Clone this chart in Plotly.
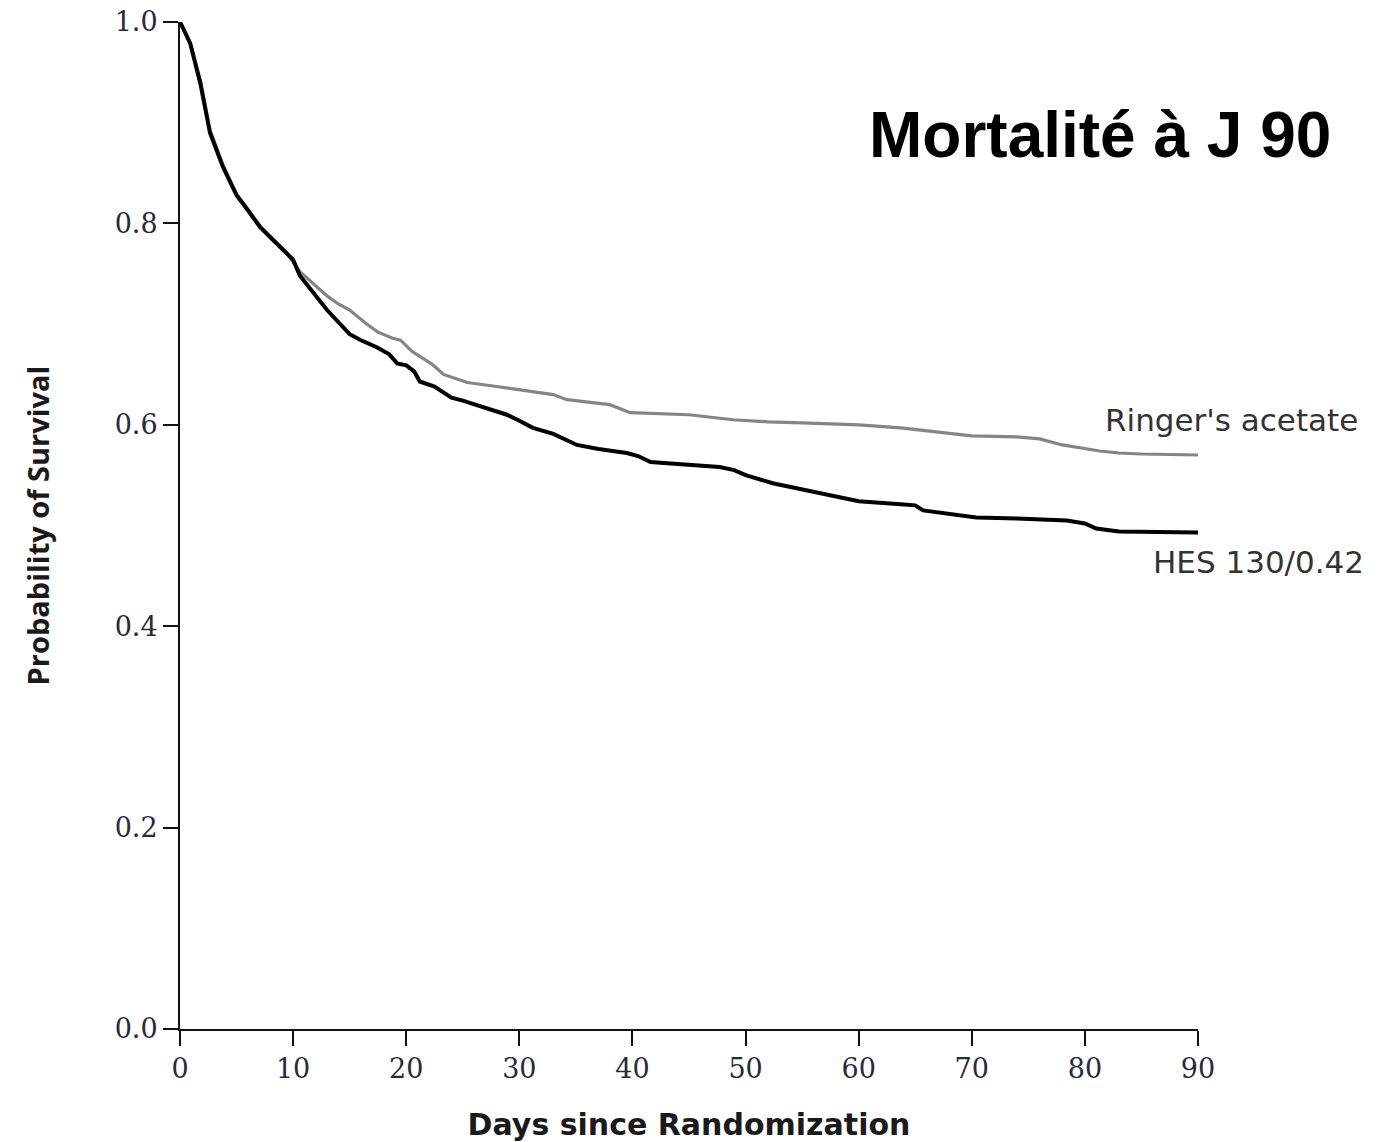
import plotly.graph_objects as go

# HES 130/0.42 (black curve)
hes_days = [0, 0.9, 1.8, 2.65, 3.8, 5, 6, 7.1, 8, 9.4, 10, 10.6, 11.5, 13, 15, 16, 17.4, 18.5,
            19.2, 20, 20.7, 21.2, 22.5, 24, 25, 26.8, 28.9, 30, 31.2, 33, 35.1, 37, 39.5, 40.5,
            41.6, 44, 47.7, 49, 50, 52.4, 55, 58.9, 60, 63.7, 65, 65.7, 68, 70.4, 74, 78.4, 80,
            81, 83, 90]
hes_surv = [1.0, 0.979, 0.939, 0.890, 0.856, 0.828, 0.813, 0.796, 0.786, 0.770, 0.764, 0.748,
            0.735, 0.714, 0.690, 0.684, 0.677, 0.670, 0.661, 0.659, 0.653, 0.643, 0.638, 0.627,
            0.624, 0.618, 0.610, 0.604, 0.597, 0.591, 0.580, 0.576, 0.572, 0.569, 0.563, 0.561,
            0.558, 0.555, 0.550, 0.542, 0.536, 0.526, 0.524, 0.521, 0.520, 0.515, 0.512, 0.508,
            0.507, 0.505, 0.502, 0.497, 0.494, 0.493]

# Ringer's acetate (gray curve)
ra_days = [0, 0.9, 1.8, 2.65, 3.8, 5, 6, 7.1, 8, 9.4, 10.6, 12, 13, 14, 15, 16.5, 17.5, 18.8,
           19.5, 20.5, 21.2, 22.3, 23.3, 24.5, 25.4, 28, 30, 32, 33, 34.2, 36.9, 38, 39.8, 42,
           45, 48.9, 52, 55, 60, 63.7, 66, 68, 70, 74, 76, 78, 81.3, 83, 85, 90]
ra_surv = [1.0, 0.979, 0.942, 0.893, 0.858, 0.829, 0.814, 0.797, 0.787, 0.771, 0.752, 0.738,
           0.728, 0.720, 0.714, 0.700, 0.692, 0.686, 0.684, 0.673, 0.668, 0.660, 0.650, 0.645,
           0.642, 0.638, 0.635, 0.632, 0.630, 0.625, 0.622, 0.620, 0.612, 0.611, 0.610, 0.605,
           0.603, 0.602, 0.600, 0.597, 0.594, 0.591, 0.589, 0.588, 0.586, 0.580, 0.574, 0.572,
           0.571, 0.570]

x_ticks = [0, 10, 20, 30, 40, 50, 60, 70, 80, 90]
y_ticks = [0.0, 0.2, 0.4, 0.6, 0.8, 1.0]

fig = go.Figure()
fig.add_trace(go.Scatter(x=ra_days, y=ra_surv, mode="lines",
                         line=dict(color="#858585", width=3.2), name="Ringer's acetate",
                         showlegend=False))
fig.add_trace(go.Scatter(x=hes_days, y=hes_surv, mode="lines",
                         line=dict(color="#000000", width=4), name="HES 130/0.42",
                         showlegend=False))

tick_font = dict(family="DejaVu Serif", size=27, color="#2a2a3a")

fig.update_layout(
    width=1394, height=1142,
    margin=dict(l=180, r=196, t=22, b=113),
    paper_bgcolor="white", plot_bgcolor="white",
    xaxis=dict(range=[0, 90], tickvals=x_ticks, showgrid=False, zeroline=False,
               showline=True, linecolor="#111", linewidth=2, automargin=False,
               ticks="outside", ticklen=15, tickwidth=2, tickcolor="#111",
               tickfont=tick_font,
               title=dict(text="<b>Days since Randomization</b>",
                          font=dict(family="DejaVu Sans", size=30, color="#1a1a1a"),
                          standoff=32)),
    yaxis=dict(range=[0, 1], tickvals=y_ticks, tickformat=".1f", showgrid=False,
               zeroline=False, showline=True, linecolor="#111", linewidth=2, automargin=False,
               ticks="outside", ticklen=15, tickwidth=2, tickcolor="#111",
               tickfont=tick_font,
               title=dict(text="<b>Probability of Survival</b>",
                          font=dict(family="Open Sans", size=29, color="#1a1a1a"),
                          standoff=56)),
    annotations=[
        dict(text="<b>Mortalité à J 90</b>", xref="paper", yref="paper",
             x=(1333 - 180) / 1018, y=1 - (135 - 22) / 1007, xanchor="right", yanchor="middle",
             showarrow=False, font=dict(family="Liberation Sans", size=64, color="#000")),
        dict(text="Ringer's acetate", xref="paper", yref="paper",
             x=(1360 - 180) / 1018, y=1 - (420 - 22) / 1007, xanchor="right", yanchor="middle",
             showarrow=False, font=dict(family="DejaVu Sans", size=31, color="#333")),
        dict(text="HES 130/0.42", xref="paper", yref="paper",
             x=(1366 - 180) / 1018, y=1 - (562 - 22) / 1007, xanchor="right", yanchor="middle",
             showarrow=False, font=dict(family="DejaVu Sans", size=31, color="#333")),
    ],
)

fig.write_html("out.html")
